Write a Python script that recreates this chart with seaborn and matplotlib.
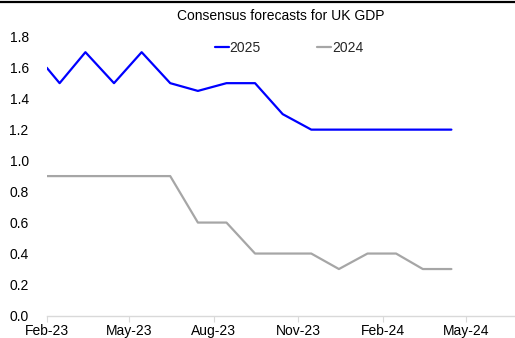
import matplotlib
matplotlib.use("Agg")
import matplotlib.pyplot as plt
import matplotlib.dates as mdates
import seaborn as sns
import pandas as pd
from matplotlib.lines import Line2D

dates = ["2023-02-01", "2023-02-15", "2023-03-15", "2023-04-15", "2023-05-15",
         "2023-06-15", "2023-07-15", "2023-08-15", "2023-09-15", "2023-10-15",
         "2023-11-15", "2023-12-15", "2024-01-15", "2024-02-15", "2024-03-15",
         "2024-04-15"]
gdp_2025 = [1.6, 1.5, 1.7, 1.5, 1.7, 1.5, 1.45, 1.5, 1.5, 1.3, 1.2, 1.2, 1.2, 1.2, 1.2, 1.2]
gdp_2024 = [0.9, 0.9, 0.9, 0.9, 0.9, 0.9, 0.6, 0.6, 0.4, 0.4, 0.4, 0.3, 0.4, 0.4, 0.3, 0.3]
series_names = ["2025", "2024"]
series_colors = ["#0000FF", "#A6A6A6"]
yticks = [0.0, 0.2, 0.4, 0.6, 0.8, 1.0, 1.2, 1.4, 1.6, 1.8]

df = pd.DataFrame({
    "date": pd.to_datetime(dates * 2),
    "value": gdp_2025 + gdp_2024,
    "series": [series_names[0]] * len(dates) + [series_names[1]] * len(dates),
})

sns.set_theme(style="white")
plt.rcParams["font.family"] = ["Liberation Sans", "DejaVu Sans"]
plt.rcParams["font.size"] = 10

fig = plt.figure(figsize=(5.15, 3.38), dpi=100)
ax = fig.add_axes([46.7 / 515, 22.5 / 338, 1 - 46.7 / 515, (315.5 - 36.7) / 338])

sns.lineplot(data=df, x="date", y="value", hue="series",
             palette=dict(zip(series_names, series_colors)),
             linewidth=1.6, ax=ax, legend=False)

ax.set_xlim(pd.Timestamp("2023-02-01"), pd.Timestamp("2024-06-23"))
ax.set_ylim(0, 1.8)
ax.set_yticks(yticks)
ax.set_yticklabels([f"{v:.1f}" for v in yticks], fontsize=10, color="black")
ax.xaxis.set_major_locator(mdates.MonthLocator(bymonth=[2, 5, 8, 11]))
ax.xaxis.set_major_formatter(mdates.DateFormatter("%b-%y"))
ax.tick_params(axis="x", which="major", direction="out", length=4, width=0.8,
               color="#D9D9D9", labelsize=10, labelcolor="black", pad=2, bottom=True)
ax.tick_params(axis="y", length=0, pad=13)
ax.set_xlabel("")
ax.set_ylabel("")
for s in ["left", "right", "top"]:
    ax.spines[s].set_visible(False)
ax.spines["bottom"].set_color("#D9D9D9")
ax.spines["bottom"].set_linewidth(1)
ax.grid(False)

handles = [Line2D([], [], color=c, linewidth=1.6) for c in series_colors]
ax.legend(handles, series_names, ncol=2, frameon=False, fontsize=10,
          loc="center", bbox_to_anchor=((289 - 46.7) / (515 - 46.7), 1 - (48 - 36.7) / (315.5 - 36.7)),
          handlelength=1.0, handletextpad=0.05, columnspacing=4.1)

fig.text((46.7 + 515) / 2 / 515, 1 - 16 / 338, "Consensus forecasts for UK GDP",
         ha="center", va="center", fontsize=10, color="black")
fig.add_artist(Line2D([0, 1], [1 - 1.5 / 338, 1 - 1.5 / 338], color="black",
                      linewidth=1.6, transform=fig.transFigure))

fig.savefig("out.png", dpi=100)
